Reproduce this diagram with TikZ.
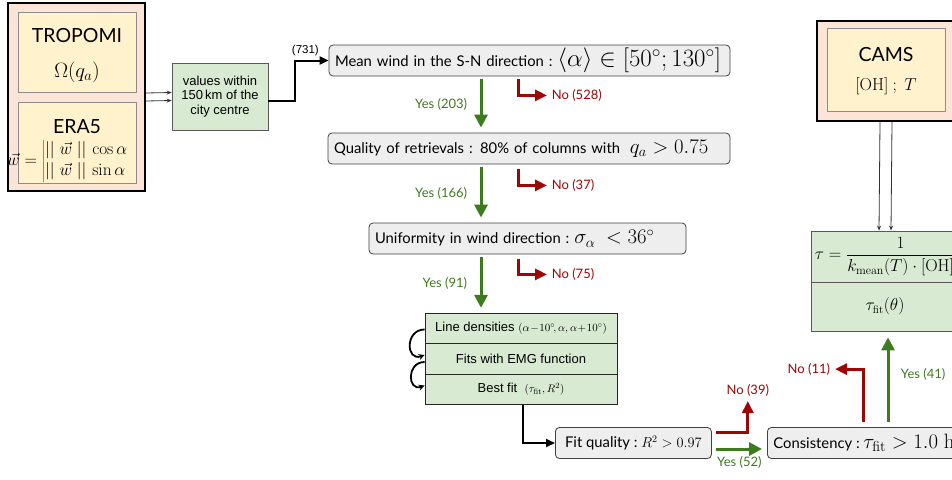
\documentclass[tikz,border=0pt]{standalone}
\usepackage[no-math]{fontspec}
\setmainfont{Lato}
\newfontfamily\arialfont{Liberation Sans}
\usetikzlibrary{arrows.meta}
\definecolor{peach}{RGB}{252,228,214}
\definecolor{paleyellow}{RGB}{255,242,204}
\definecolor{palegreen}{RGB}{217,234,211}
\definecolor{palegray}{RGB}{238,238,238}
\definecolor{yesgreen}{RGB}{62,122,30}
\definecolor{nored}{RGB}{160,5,5}
\newcommand{\fs}[1]{\fontsize{#1}{#1}\selectfont}
\newcommand{\lgmath}[1]{{\fs{22.5}$#1$}}
\tikzset{
  srcouter/.style={draw=black, line width=2pt, fill=peach},
  srcinner/.style={draw=black!45, line width=0.8pt, fill=paleyellow, align=center, inner sep=0pt},
  procbox/.style={draw=black!65, line width=0.8pt, fill=palegreen, align=center, inner sep=2pt},
  testbox/.style={draw=black!75, line width=0.8pt, fill=palegray, rounded corners=4pt,
    minimum height=31pt, inner xsep=6pt, inner ysep=0pt, font=\fs{14.8}},
  stackrow/.style={procbox, draw=black!85, minimum width=192pt, minimum height=30.5pt,
    font=\arialfont\fs{13}},
  yesarrow/.style={draw=yesgreen, line width=3pt, -{Triangle[length=13pt,width=13pt]}},
  noarrow/.style={draw=nored, line width=3pt, -{Triangle[length=12pt,width=11pt]}},
  blkarrow/.style={draw=black, line width=2pt, -{Triangle[length=9pt,width=8pt]}},
  thinarrow/.style={draw=black!80, line width=0.8pt, -{Stealth[length=5pt,width=4pt]}},
  loopy/.style={draw=black, line width=1.8pt, -{Stealth[length=6pt,width=6pt]}},
  yestext/.style={text=yesgreen, font=\fs{13}},
  notext/.style={text=nored, font=\fs{13}}
}
\begin{document}
\begin{tikzpicture}[x=1pt,y=-1pt]
  \useasboundingbox (0,0) rectangle (952,479);
  \clip (0,0) rectangle (952,479);
  %%%%% inputs %%%%%
  \node[srcouter, minimum width=137pt, minimum height=188pt] (srcbox) at (76.5,97) {};
  \node[srcinner, minimum width=118pt, minimum height=80pt] (tropomi) at (77,52) {};
  \node[font=\fs{19.5}] (tropolabel) at (77,36) {TROPOMI};
  \node[font=\fs{20}] (tropovar) at (77,72) {$\Omega(q_a)$};
  \node[srcinner, minimum width=118pt, minimum height=81pt] (era) at (77,142.5) {};
  \node[font=\fs{19.5}] (eralabel) at (77,127) {ERA5};
  \node[inner sep=0pt, anchor=west] (eravec) at (7,161)
    {\fontsize{17.5}{21}\selectfont$\vec{w} = \left|\begin{array}{@{}l@{}}
      ||\;\vec{w}\;||\,\cos\alpha\\ ||\;\vec{w}\;||\,\sin\alpha\end{array}\right.$};
  \node[procbox, minimum width=96pt, minimum height=67pt, font=\arialfont\fs{13}, align=center]
    (values) at (220,96.5) {values within\\[1.5pt]150\,km of the\\[1.5pt]city centre};
  \draw[thinarrow] ([yshift=4pt]srcbox.east) -- ([yshift=4pt]values.west);
  \draw[thinarrow] ([yshift=-4pt]srcbox.east) -- ([yshift=-4pt]values.west);

  %%%%% tests %%%%%
  \node[testbox, text width=389pt] (mean) at (529.5,60.5)
    {Mean wind in the S-N direction :\ {\fs{23}$\langle\alpha\rangle\in[50^\circ;130^\circ]$}};
  \node[testbox, text width=390pt] (quality) at (529,148.5)
    {Quality of retrievals : 80\% of columns with \ \lgmath{q_a > 0.75}};
  \node[testbox, text width=305pt] (unif) at (527.5,238.5)
    {Uniformity in wind direction :\ \lgmath{\sigma_\alpha\ < 36^\circ}};
  \draw[blkarrow] ([yshift=-4.5pt]values.east) -- ++(27,0) |- (mean.west)
    node[pos=0.5, above, font=\arialfont\fs{11.5}, xshift=10pt] {(731)};

  \coordinate (yescol) at (481,0);
  \coordinate (nocol) at (518,0);
  \draw[yesarrow, shorten <=3pt, shorten >=5pt] (mean.south -| yescol) -- (quality.north -| yescol)
    node[midway, left=9pt, yestext] {Yes (203)};
  \draw[noarrow] (mean.south -| nocol) ++(0,3) -- ++(0,16) -- ++(29,0) node[right, notext] {No (528)};
  \draw[yesarrow, shorten <=3pt, shorten >=5pt] (quality.south -| yescol) -- (unif.north -| yescol)
    node[midway, left=9pt, yestext] {Yes (166)};
  \draw[noarrow] (quality.south -| nocol) ++(0,5) -- ++(0,16) -- ++(29,0) node[right, notext] {No (37)};

  %%%%% line densities %%%%%
  \node[stackrow] (row1) at (521,328.5)
    {Line densities {\fs{11}$(\alpha\!-\!10^\circ\!,\alpha,\alpha\!+\!10^\circ)$}};
  \node[stackrow] (row2) at (521,359) {Fits with EMG function};
  \node[stackrow] (row3) at (521,389.5) {Best fit \ {\fs{11}$(\tau_{\mathrm{fit}},R^2)$}};
  \draw[yesarrow, shorten <=3pt, shorten >=5pt] (unif.south -| yescol) -- (row1.north -| yescol)
    node[midway, left=9pt, yestext] {Yes (91)};
  \draw[noarrow] (unif.south -| nocol) ++(0,5) -- ++(0,15) -- ++(29,0) node[right, notext] {No (75)};
  \draw[loopy] ([yshift=-1pt]row1.west) to[out=180, in=200, looseness=2] ([yshift=4pt]row2.west);
  \draw[loopy] ([yshift=-3pt]row2.west) to[out=180, in=200, looseness=2] ([yshift=4pt]row3.west);

  %%%%% fit and consistency %%%%%
  \node[testbox, anchor=west, minimum width=156pt] (fit) at (555,443)
    {Fit quality :\ {\fs{14}$R^2 > 0.97$}};
  \node[testbox, anchor=west] (cons) at (767,443)
    {Consistency :\ \lgmath{\tau_{\mathrm{fit}} > 1.0\ \mathrm{h}}};
  \draw[blkarrow] ([xshift=2pt]row3.south) |- (fit.west);
  \draw[yesarrow, shorten <=4pt, shorten >=5pt] ([yshift=-6pt]fit.east) -- ([yshift=-6pt]cons.west)
    node[midway, below=3pt, yestext] {Yes (52)};
  \draw[noarrow] ([yshift=11pt]fit.east) ++(4,0) -- ++(32,0) -- ++(0,-31) node[above, notext] {No (39)};

  %%%%% CAMS and lifetime %%%%%
  \node[srcouter, minimum width=138pt, minimum height=100pt] (camsbox) at (886,71) {};
  \node[srcinner, minimum width=118pt, minimum height=83pt] (cams) at (886,70) {};
  \node[font=\fs{19.5}] (camslabel) at (886,54.5) {CAMS};
  \node[font=\fs{17}] (camsvar) at (886,86) {$[\mathrm{OH}]\ ;\ T$};
  \node[procbox, minimum width=148pt, minimum height=51pt, font=\fs{16.5}] (tau1) at (885,256.5)
    {$\tau = \displaystyle\frac{1}{k_{\mathrm{mean}}(T)\cdot[\mathrm{OH}]}$};
  \node[procbox, minimum width=148pt, minimum height=49pt, font=\fs{16}] (tau2) at (885,306.5)
    {$\tau_{\mathrm{fit}}(\theta)$};
  \draw[thinarrow] ([xshift=-6pt]camsbox.south) -- ([xshift=-6pt]tau1.north);
  \draw[thinarrow] ([xshift=6pt]camsbox.south) -- ([xshift=6pt]tau1.north);

  \coordinate (nocol2) at (863,0);
  \coordinate (yescol2) at (888,0);
  \draw[noarrow] (cons.north -| nocol2) ++(0,-5) -- ++(0,-53) -- ++(-28,0) node[left, notext] {No (11)};
  \draw[yesarrow, shorten <=5pt, shorten >=6pt] (cons.north -| yescol2) -- (tau2.south -| yescol2)
    node[pos=0.55, right=8pt, yestext] {Yes (41)};
\end{tikzpicture}
\end{document}
